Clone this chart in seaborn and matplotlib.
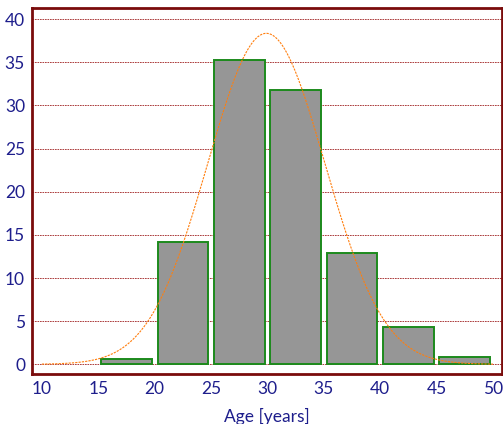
import numpy as np
import pandas as pd
import matplotlib
matplotlib.use("Agg")
import matplotlib.pyplot as plt
import seaborn as sns

# data
bin_edges = [15, 20, 25, 30, 35, 40, 45, 50]
bin_mids = [17.5, 22.5, 27.5, 32.5, 37.5, 42.5, 47.5]
percent = [0.6, 14.2, 35.3, 31.8, 12.9, 4.3, 0.9]
fit_mean = 29.9
fit_sd = 5.2
x_ticks = [10, 15, 20, 25, 30, 35, 40, 45, 50]
y_ticks = [0, 5, 10, 15, 20, 25, 30, 35, 40]
x_label = "Age [years]"

sns.set_style("white")
plt.rcParams["font.family"] = ["Lato", "DejaVu Sans"]

navy = "#1E1E8C"
maroon = "#7A0C0C"

fig = plt.figure(figsize=(5.03, 4.24), dpi=100)
ax = fig.add_axes([0.0636, 0.118, 0.9338, 0.862])

df = pd.DataFrame({"age": bin_mids, "pct": percent})
sns.histplot(data=df, x="age", weights="pct", bins=bin_edges, shrink=0.9,
             color="#969696", edgecolor="#1C8A1C", linewidth=1.4, alpha=1,
             ax=ax, zorder=3)

# fitted normal curve scaled to the percentage histogram (bin width 5)
xs = np.linspace(10, 50, 400)
ys = 100 * 5 * np.exp(-0.5 * ((xs - fit_mean) / fit_sd) ** 2) / (fit_sd * np.sqrt(2 * np.pi))
sns.lineplot(x=xs, y=ys, color="#FF7F0E", linewidth=0.8, linestyle=(0, (2, 1)),
             ax=ax, zorder=4)

ax.set_xlim(9.12, 50.77)
ax.set_ylim(-1.12, 41.24)
ax.set_xticks(x_ticks)
ax.set_yticks(y_ticks)
ax.yaxis.grid(True, color="#A02020", linestyle=(0, (2, 1)), linewidth=0.6)
ax.xaxis.grid(False)
ax.set_axisbelow(True)

for s in ax.spines.values():
    s.set_color(maroon)
    s.set_linewidth(2)
    s.set_visible(True)

ax.tick_params(axis="both", direction="in", length=9, width=2, color=maroon,
               labelcolor=navy, labelsize=12.5)
ax.tick_params(axis="x", pad=5)
ax.tick_params(axis="y", pad=5)
ax.set_xlabel(x_label, color=navy, fontsize=12.5, labelpad=8)
ax.set_ylabel("")

fig.savefig("out.png", dpi=100)
